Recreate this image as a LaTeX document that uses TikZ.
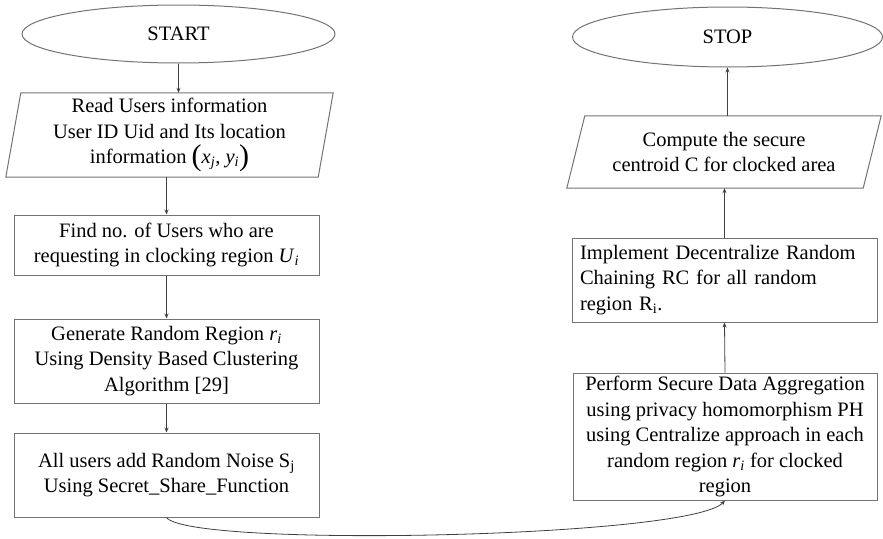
\documentclass[tikz,border=0pt]{standalone}
\usepackage{fontspec}
\setmainfont{Liberation Serif}
\usetikzlibrary{shapes.geometric,arrows.meta,calc}
\newcommand{\bigparen}[1]{\raisebox{-2pt}{\fontsize{30}{25}\selectfont #1}}
\newcommand{\itsub}[2]{\textit{#1}\textsubscript{\textit{#2}}}
\begin{document}
\begin{tikzpicture}[x=1pt,y=-1pt,
  every node/.style={font=\fontsize{20.5}{25.5}\selectfont},
  outl/.style={draw=black!55, line width=1pt},
  term/.style={outl, ellipse, inner sep=0pt},
  procbox/.style={outl, rectangle, inner sep=0pt, align=center},
  iobox/.style={rectangle, inner sep=0pt, align=center},
  conn/.style={draw=black!75, line width=0.8pt, -{Stealth[length=5pt,width=4pt]}}
]
\useasboundingbox (0,0) rectangle (883,538);
% left column
\node[term, minimum width=313pt, minimum height=58pt] (start) at (178.5,34) {START};
\node[iobox, minimum width=312pt, minimum height=84pt] (read) at (169.5,135)
  {Read Users information\\User ID Uid and Its location\\information \bigparen{(}\itsub{x}{j}, \itsub{y}{i}\bigparen{)}};
\draw[outl] ($(read.north west)+(7.5,0)$) -- ($(read.north east)+(7.5,0)$)
  -- ($(read.south east)+(-7.5,0)$) -- ($(read.south west)+(-7.5,0)$) -- cycle;
\node[procbox, minimum width=305pt, minimum height=60pt] (find) at (166.5,245)
  {Find no. of Users who are\\requesting in clocking region \itsub{U}{i}};
\node[procbox, minimum width=305pt, minimum height=84pt] (gen) at (166.5,361)
  {Generate Random Region \itsub{r}{i}\\Using Density Based Clustering\\Algorithm [29]};
\node[procbox, minimum width=305pt, minimum height=84pt] (noise) at (166.5,475)
  {All users add Random Noise S\textsubscript{j}\\Using Secret\_Share\_Function};
% right column
\node[term, minimum width=310pt, minimum height=60pt] (stop) at (727.5,37) {STOP};
\node[iobox, minimum width=296pt, minimum height=72pt] (comp) at (724,152)
  {Compute the secure\\centroid C for clocked area};
\draw[outl] ($(comp.north west)+(9,0)$) -- ($(comp.north east)+(9,0)$)
  -- ($(comp.south east)+(-9,0)$) -- ($(comp.south west)+(-9,0)$) -- cycle;
\node[procbox, minimum width=305pt, minimum height=84pt, text width=289pt, align=left] (impl) at (724.5,280)
  {Implement Decentralize Random\\Chaining RC for all random\\region R\textsubscript{i}.};
\node[procbox, minimum width=304pt, minimum height=127pt] (perf) at (725,436.5)
  {Perform Secure Data Aggregation\\using privacy homomorphism PH\\using Centralize approach in each\\random region \itsub{r}{i} for clocked\\region};
% connectors
\draw[conn] (start.south) -- (start.south |- read.north);
\draw[conn] (find.north |- read.south) -- (find.north);
\draw[conn] (find.south) -- (gen.north);
\draw[conn] (gen.south) -- (noise.north);
\draw[conn] (noise.south) .. controls (190,548) and (690,538) .. (perf.south);
\draw[conn] (perf.north) -- (impl.south);
\draw[conn] (impl.north) -- (impl.north |- comp.south);
\draw[conn] (stop.south |- comp.north) -- (stop.south);
\end{tikzpicture}
\end{document}
